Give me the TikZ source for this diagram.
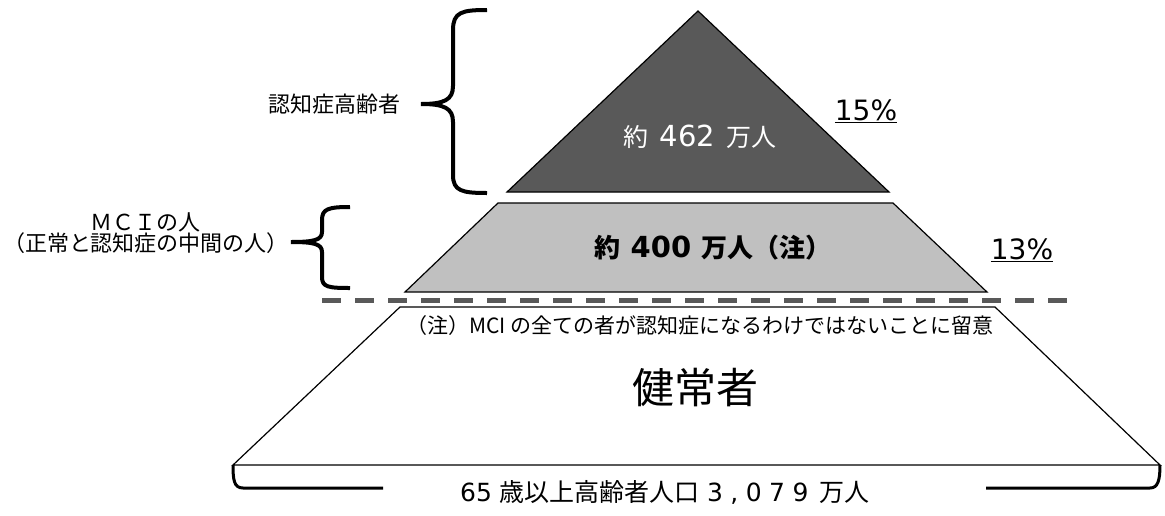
\documentclass[tikz,border=0pt]{standalone}
\usepackage{fontspec}
\setmainfont{Noto Sans CJK JP}
\newfontfamily\numfont{DejaVu Sans}
\newfontfamily\widenum[LetterSpace=30]{DejaVu Sans}
\newcommand{\fsz}[1]{\fontsize{#1}{#1}\selectfont}
\definecolor{darkgray}{HTML}{595959}
\definecolor{midgray}{HTML}{C0C0C0}

\begin{document}
\begin{tikzpicture}[x=1pt, y=-1pt,
		outline/.style={draw=black, line width=1.2pt},
		bracepath/.style={draw=black, line width=4pt},
		lbl/.style={inner sep=0pt}]
		\useasboundingbox (0, 0) rectangle (1165, 515);
		% pyramid
		\draw[outline, fill=darkgray] (698, 11) -- (889, 192) -- (507, 192) -- cycle;
		\draw[outline, fill=midgray] (498, 203) -- (893, 203) -- (987, 292) -- (405, 292) -- cycle;
		\draw[outline, fill=white] (400, 307) -- (995, 307) -- (1160, 465) -- (233, 465) -- cycle;
		\draw[darkgray, line width=5pt, dash pattern=on 19pt off 14pt] (322, 300) -- (1070, 300);
		% braces
		\draw[bracepath] (487, 10) .. controls (462, 10) and (453, 12) .. (453, 30) -- (453, 86)
			.. controls (453, 100) and (444, 104) .. (421, 104)
			.. controls (444, 104) and (453, 108) .. (453, 122) -- (453, 175)
			.. controls (453, 191) and (462, 193) .. (487, 193);
		\draw[bracepath] (350, 207) .. controls (328, 207) and (322, 209) .. (322, 220) -- (322, 232)
			.. controls (322, 240) and (314, 242) .. (291, 242)
			.. controls (314, 242) and (322, 244) .. (322, 252) -- (322, 277)
			.. controls (322, 287) and (328, 288) .. (350, 288);
		\draw[draw=black, line width=3pt] (233, 465) .. controls (233, 480) and (234, 488) .. (243, 488) -- (383, 488);
		\draw[draw=black, line width=3pt] (1160, 465) .. controls (1160, 480) and (1158, 488) .. (1150, 488) -- (986, 488);
		% texts
		\node[lbl, text=white] (top) at (700, 137) {\fsz{25}約\hspace{0.45em}{\numfont\fsz{29}462}\hspace{0.45em}万人};
		\node[lbl] (mid) at (713, 248) {\fsz{26}\bfseries 約\hspace{0.4em}{\numfont\fsz{29}400}\hspace{0.4em}万人（注）};
		\node[lbl] (note) at (700, 326) {\fsz{21}（注）MCI の全ての者が認知症になるわけではないことに留意};
		\node[lbl] (healthy) at (695, 388) {\fsz{42}健常者};
		\node[lbl] (total) at (665, 492) {\fsz{25}{\numfont 65}\hspace{0.3em}歳以上高齢者人口\hspace{0.3em}{\widenum 3,079}\hspace{0.45em}万人};
		\node[lbl] (dementia) at (334, 104) {\fsz{22}認知症高齢者};
		\node[lbl, align=center, font={\fontsize{22}{21}\selectfont}] (mci) at (146, 233) {ＭＣＩの人\\（正常と認知症の中間の人）};
		\node[lbl] (p15) at (866, 111) {\fsz{28}\numfont\underline{15\%}};
		\node[lbl] (p13) at (1022, 250) {\fsz{28}\numfont\underline{13\%}};
	\end{tikzpicture}
\end{document}
